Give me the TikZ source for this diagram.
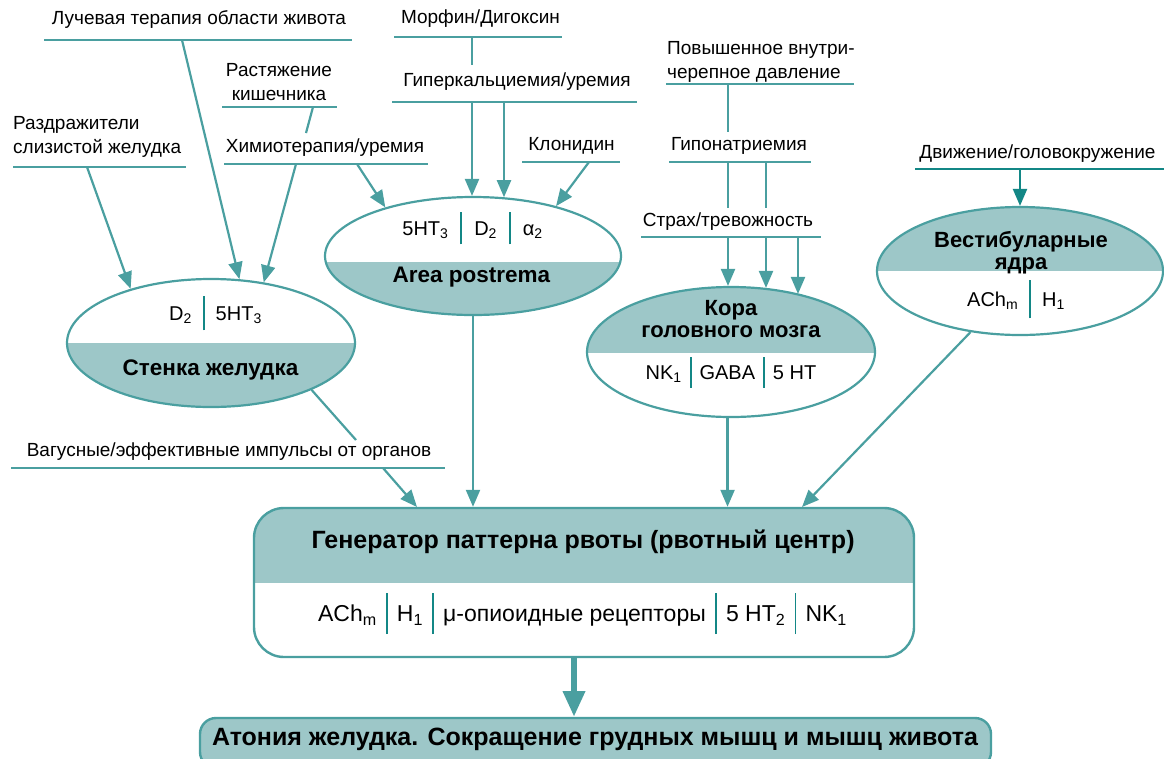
\documentclass[tikz,border=0pt]{standalone}
\usepackage{fontspec}
\setmainfont{Liberation Sans}
\usetikzlibrary{shapes.geometric,arrows.meta}
\definecolor{tl}{HTML}{4A9FA0}
\definecolor{tf}{HTML}{9DC7C8}
\definecolor{td}{HTML}{138786}
\newcommand\vbar[2]{\hspace{#1}{\color{td}\rule[\dimexpr0.36em-#2/2\relax]{1.8pt}{#2}}\hspace{#1}}
\begin{document}
\begin{tikzpicture}[x=1pt,y=-1pt,
  lab/.style={inner sep=0pt, font=\fontsize{19}{24}\selectfont, text height=0.72em, text depth=0pt},
  mlab/.style={inner sep=0pt, font=\fontsize{19}{24}\selectfont},
  ul/.style={draw=tl, line width=2.4pt},
  uld/.style={draw=td, line width=2.4pt},
  conn/.style={draw=tl, line width=2.2pt},
  arr/.style={conn, -{Triangle[length=17pt,width=14pt]}},
  arrd/.style={draw=td, line width=2.2pt, -{Triangle[length=17pt,width=14pt]}},
  oval/.style={ellipse, draw=tl, line width=2.2pt, inner sep=0pt},
  fillbelow/.style={path picture={\fill[tf, sharp corners] ([yshift=-#1]path picture bounding box.west) rectangle (path picture bounding box.south east);}},
  fillbelow/.default=0pt,
  fillabove/.style={path picture={\fill[tf, sharp corners] (path picture bounding box.north west) rectangle ([yshift=-#1]path picture bounding box.east);}},
  fillabove/.default=0pt,
  rec/.style={inner sep=0pt, font=\fontsize{20}{24}\selectfont, text height=0.72em, text depth=0pt},
  ttl/.style={inner sep=0pt, font=\fontsize{22.5}{22}\bfseries\selectfont, text height=0.72em, text depth=0pt},
  mttl/.style={inner sep=0pt, font=\fontsize{22}{22}\bfseries\selectfont, align=center, anchor=north},
  bigttl/.style={inner sep=0pt, font=\fontsize{25}{26}\bfseries\selectfont, text height=0.72em, text depth=0pt},
]
\useasboundingbox (0,0) rectangle (1164,758);
\clip (0,0) rectangle (1164,758);

% ---------- labels ----------
\node[lab] (luch) at (199,21) {Лучевая терапия области живота};
\draw[ul] (44,40) -- (352,40);
\coordinate (luchA) at (182,40);

\node[mlab, align=center, anchor=north] (rast) at (279,63) {Растяжение\\кишечника};
\draw[ul] (222,107) -- (337,107);
\coordinate (rastA) at (313,107);
\coordinate (rastB) at (306,133);

\node[mlab, align=left, anchor=north west] (razd) at (13,116) {Раздражители\\слизистой желудка};
\draw[ul] (13,167) -- (186,167);
\coordinate (razdA) at (87,167);

\node[lab] (himio) at (325,149) {Химиотерапия/уремия};
\draw[ul] (224,164) -- (428,164);
\coordinate (himA) at (296,164);
\coordinate (himB) at (357,164);

\node[lab] (morf) at (480.5,20) {Морфин/Дигоксин};
\draw[ul] (394,37) -- (562,37);
\coordinate (morfA) at (472,37);
\coordinate (morfB) at (472,65);

\node[lab] (hyperca) at (517,83) {Гиперкальциемия/уремия};
\draw[ul] (392,102) -- (637,102);
\coordinate (hypA) at (472,102);
\coordinate (hypB) at (504,102);

\node[lab] (klon) at (571.5,147) {Клонидин};
\draw[ul] (522,162) -- (620,162);
\coordinate (klonA) at (589,162);

\node[mlab, align=left, anchor=north west] (icp) at (667,41) {Повышенное внутри-\\черепное давление};
\draw[ul] (666,84) -- (854,84);
\coordinate (icpA) at (728,84);
\coordinate (icpB) at (728,132);

\node[lab] (hypona) at (739,147) {Гипонатриемия};
\draw[ul] (669,162) -- (811,162);
\coordinate (naA) at (728,162);
\coordinate (naB) at (766,162);
\coordinate (naA2) at (728,208);
\coordinate (naB2) at (766,208);

\node[lab] (dviz) at (1037.5,155) {Движение/головокружение};
\draw[uld] (915,169) -- (1164,169);
\coordinate (dvizA) at (1020,169);

\node[lab] (strah) at (728,223) {Страх/тревожность};
\draw[ul] (641,237) -- (821,237);
\coordinate (strA) at (728,237);
\coordinate (strB) at (766,237);
\coordinate (strC) at (798,237);

\node[lab] (vagus) at (229,453) {Вагусные/эффективные импульсы от органов};
\draw[ul] (11,468) -- (445,468);
\coordinate (vagA) at (383,468);
\coordinate (stenkaEnd) at (356,440);

% ---------- ellipses ----------
\node[oval, fillbelow, minimum width=288pt, minimum height=128pt] (stenka) at (211,343) {};
\node[rec] (stenkaR) at (215.5,317) {D\textsubscript{2}\vbar{0.55em}{1.7em}5HT\textsubscript{3}};
\node[ttl] (stenkaT) at (210.5,372) {Стенка желудка};

\node[oval, fillbelow=6pt, minimum width=296pt, minimum height=118pt] (ap) at (473,256) {};
\node[rec] (apR) at (472.5,232) {5HT\textsubscript{3}\vbar{0.6em}{1.6em}D\textsubscript{2}\vbar{0.6em}{1.6em}α\textsubscript{2}};
\node[ttl] (apT) at (471.5,279) {Area postrema};

\node[oval, fillabove=1pt, minimum width=288pt, minimum height=130pt] (kora) at (731,352) {};
\node[mttl] (koraT) at (731,300) {Кора\\головного мозга};
\node[rec] (koraR) at (731,376) {NK\textsubscript{1}\vbar{0.4em}{1.55em}GABA\vbar{0.4em}{1.55em}5 HT};

\node[oval, fillabove, minimum width=286pt, minimum height=128pt] (vest) at (1020,271) {};
\node[mttl] (vestT) at (1021,231) {Вестибуларные\\ядра};
\node[rec] (vestR) at (1016,303) {ACh\textsubscript{m}\vbar{0.55em}{1.9em}H\textsubscript{1}};

% ---------- generator ----------
\node[rectangle, rounded corners=30pt, draw=tl, line width=2.4pt, fillabove, minimum width=660pt, minimum height=149pt, inner sep=0pt] (gen) at (584,582.5) {};
\node[bigttl] (genT) at (583,545) {Генератор паттерна рвоты (рвотный центр)};
\node[rec, font=\fontsize{23}{24}\selectfont] (genR) at (582.5,618) {ACh\textsubscript{m}\vbar{0.4em}{1.8em}H\textsubscript{1}\vbar{0.4em}{1.8em}μ-опиоидные рецепторы\vbar{0.4em}{1.8em}5 HT\textsubscript{2}\vbar{0.4em}{1.8em}NK\textsubscript{1}};

\node[rectangle, rounded corners=16pt, draw=tl, fill=tf, line width=2.4pt, minimum width=791pt, minimum height=50pt, inner sep=0pt] (bot) at (595.5,743) {};
\node[bigttl] (botT) at (595,742) {Атония желудка. Сокращение грудных мышц и мышц живота};

\coordinate (gin1) at (417,507);
\coordinate (gin4) at (802,507);
\coordinate (gout) at (574,657);
\coordinate (bin) at (574,717);

% ---------- connectors ----------
\draw[arr] (luchA) -- (stenka.66);
\draw[arr] (razdA) -- (stenka.146.5);
\draw[arr] (himA) -- (stenka.49.6);
\draw[conn] (rastA) -- (rastB);
\draw[arr] (himB) -- (ap.151.4);
\draw[conn] (morfA) -- (morfB);
\draw[arr] (hypA) -- (hypA |- ap.north);
\draw[arr] (hypB) -- (hypB |- ap.62);
\draw[arr] (klonA) -- (ap.31.5);
\draw[conn] (icpA) -- (icpB);
\draw[conn] (naA) -- (naA2);
\draw[conn] (naB) -- (naB2);
\draw[arr] (strA) -- (strA |- kora.92.6);
\draw[arr] (strB) -- (strB |- kora.61);
\draw[arr] (strC) -- (strC |- kora.40.65);
\draw[arrd] (dvizA) -- (vest.north);
\draw[conn] (stenka.-25.4) -- (stenkaEnd);
\draw[arr] (vagA) -- (gin1);
\draw[arr] (ap.south) -- (ap.south |- gen.north);
\draw[arr] (kora.267.4) -- (kora.267.4 |- gen.north);
\draw[arr] (vest.231.6) -- (gin4);
\draw[draw=tl, line width=6.5pt, -{Triangle[length=26pt,width=21pt]}] (gout) -- (bin);
\end{tikzpicture}
\end{document}
